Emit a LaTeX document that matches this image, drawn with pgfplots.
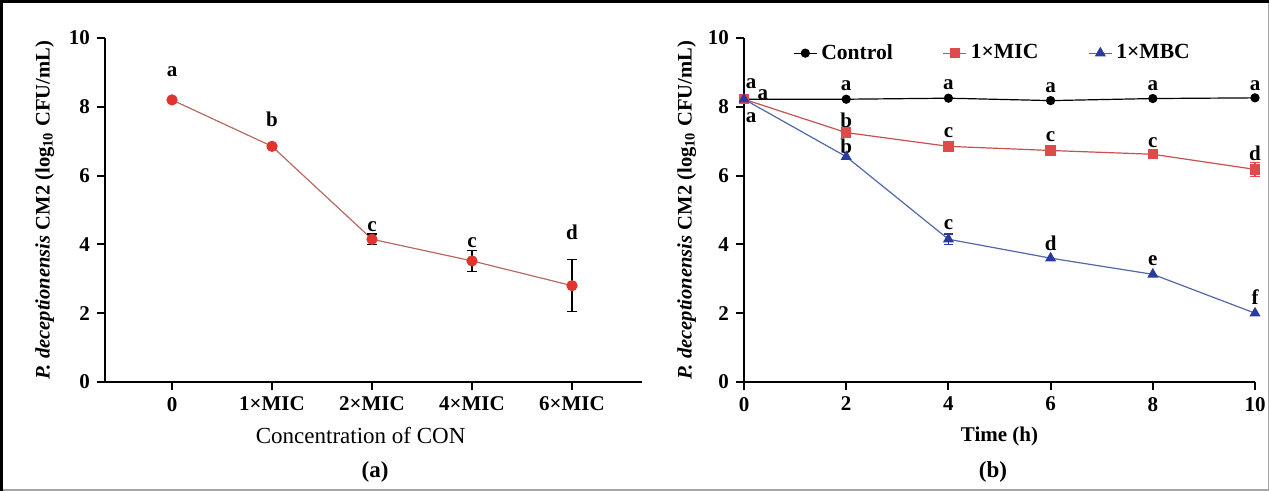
\documentclass[border=0pt]{standalone}
\usepackage{fontspec}
\setmainfont{Liberation Serif}
\usepackage{pgfplots}
\pgfplotsset{compat=1.18}
\definecolor{redm}{HTML}{E0342F}
\definecolor{redl}{HTML}{B86A62}
\definecolor{mic}{HTML}{E04A4A}
\definecolor{micl}{HTML}{C85050}
\definecolor{mbc}{HTML}{2A3A9E}
\definecolor{mbcl}{HTML}{5068A8}
\tikzset{lab/.style={font=\fontsize{10.5}{12}\selectfont\bfseries, inner sep=0pt}}
\pgfplotsset{
 common/.style={
  scale only axis, axis lines=left, axis line style={line width=1pt,-},
  enlargelimits=false,
  ymin=0,ymax=10, ytick={0,2,...,10},
  tick align=outside, major tick length=4pt, tick style={line width=1pt,black},
  tick label style={font=\fontsize{10.5}{12}\selectfont\bfseries},
  /pgf/number format/assume math mode=true,
  height=172pt, clip=false,
  ylabel={\textit{P. deceptionensis} CM2 (log\textsubscript{10} CFU/mL)},
  ylabel style={font=\fontsize{10.3}{12}\selectfont\bfseries, at={(axis description cs:-0.112,0.5)}, anchor=center},
 },
}
\begin{document}
\begin{tikzpicture}
\path[use as bounding box] (0,0) rectangle (634.5pt,245.5pt);
\draw[gray!70, line width=0.7pt] (0.75pt,0.4pt) -- (634.1pt,0.4pt) -- (634.1pt,244.75pt);
\draw[black, line width=1.5pt] (0.75pt,0) -- (0.75pt,244.75pt) -- (634.5pt,244.75pt);

\begin{axis}[common, at={(52.5pt,54.5pt)}, anchor=south west, width=268.5pt,
  xmin=-0.67, xmax=4.7, xtick={0,1,2,3,4},
  xticklabels={0,1×MIC,2×MIC,4×MIC,6×MIC},
  xlabel={Concentration of CON},
  xlabel style={font=\fontsize{11.5}{13}\selectfont, at={(axis description cs:0.476,0)}, anchor=center, yshift=-27pt},
 ]
\addplot[redl, line width=0.6pt, mark=*, mark size=2.5pt, mark options={fill=redm, draw=redm},
  error bars/.cd, y dir=both, y explicit,
  error bar style={black, line width=0.6pt},
  error mark options={rotate=90, mark size=2.5pt, black, line width=0.6pt}]
 coordinates {
 (0,8.2) +- (0,0.05)
 (1,6.85) +- (0,0.05)
 (2,4.15) +- (0,0.15)
 (3,3.52) +- (0,0.3)
 (4,2.8) +- (0,0.75)
 };
\node[lab] at (axis cs:0,9.02) {a};
\node[lab] at (axis cs:1,7.64) {b};
\node[lab] at (axis cs:2,4.53) {c};
\node[lab] at (axis cs:3,4.04) {c};
\node[lab] at (axis cs:4,4.36) {d};
\end{axis}

\begin{axis}[common, at={(372pt,54.5pt)}, anchor=south west, width=255.5pt,
  xmin=0, xmax=10, xtick={0,2,...,10},
  xlabel={Time (h)},
  xlabel style={font=\fontsize{10.5}{12}\selectfont\bfseries, at={(axis description cs:0.5,0)}, anchor=center, yshift=-27pt},
  legend style={at={(0.084,0.956)}, anchor=west, draw=none, fill=none, legend columns=3,
    font=\fontsize{10.8}{12}\selectfont\bfseries,
    /tikz/every even column/.append style={column sep=23pt}},
  legend image code/.code={\draw[mark repeat=2,mark phase=2] plot coordinates {(0cm,0cm)(0.2cm,0cm)(0.4cm,0cm)};},
 ]
\addplot[black, line width=0.6pt, mark=*, mark size=2pt, mark options={fill=black}]
 coordinates {(0,8.22)(2,8.22)(4,8.25)(6,8.18)(8,8.24)(10,8.26)};
\addlegendentry{Control}
\addplot[micl, line width=0.6pt, mark=square*, mark size=2.3pt, mark options={fill=mic, draw=mic},
  error bars/.cd, y dir=both, y explicit,
  error bar style={mic, line width=0.6pt},
  error mark options={rotate=90, mark size=2.3pt, mic, line width=0.6pt}]
 coordinates {(0,8.22)(2,7.25)(4,6.85)(6,6.73)(8,6.62)(10,6.18) +- (0,0.2)};
\addlegendentry{1×MIC}
\addplot[mbcl, line width=0.6pt, mark=triangle*, mark size=2.6pt, mark options={fill=mbc, draw=mbc},
  error bars/.cd, y dir=both, y explicit,
  error bar style={mbc, line width=0.6pt},
  error mark options={rotate=90, mark size=2.3pt, mbc, line width=0.6pt}]
 coordinates {(0,8.22)(2,6.55)(4,4.15) +- (0,0.15)(6,3.6)(8,3.13)(10,2.0)};
\addlegendentry{1×MBC}
% Control letters
\node[lab] at (axis cs:0.14,8.66) {a};
\node[lab] at (axis cs:0.37,8.34) {a};
\node[lab] at (axis cs:0.14,7.67) {a};
\node[lab] at (axis cs:2,8.6) {a};
\node[lab] at (axis cs:4,8.63) {a};
\node[lab] at (axis cs:6,8.56) {a};
\node[lab] at (axis cs:8,8.6) {a};
\node[lab] at (axis cs:10,8.62) {a};
% MIC letters
\node[lab] at (axis cs:2,7.62) {b};
\node[lab] at (axis cs:4,7.24) {c};
\node[lab] at (axis cs:6,7.12) {c};
\node[lab] at (axis cs:8,6.95) {c};
\node[lab] at (axis cs:10,6.66) {d};
% MBC letters
\node[lab] at (axis cs:2,6.86) {b};
\node[lab] at (axis cs:4,4.56) {c};
\node[lab] at (axis cs:6,4.04) {d};
\node[lab] at (axis cs:8,3.52) {e};
\node[lab] at (axis cs:10,2.47) {f};
\end{axis}

\node[font=\fontsize{11.5}{13}\selectfont\bfseries] at (187.5pt,9.5pt) {(a)};
\node[font=\fontsize{11.5}{13}\selectfont\bfseries] at (496.5pt,9.5pt) {(b)};
\end{tikzpicture}
\end{document}
